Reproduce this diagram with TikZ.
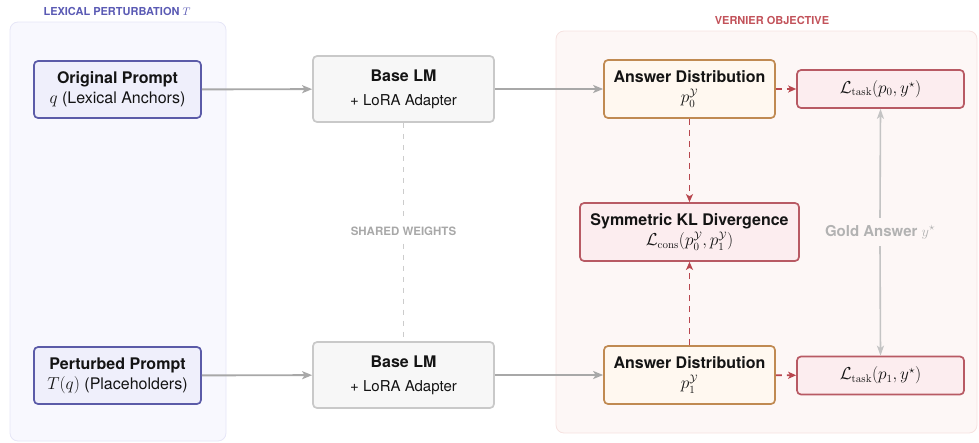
\documentclass[tikz,border=0pt]{standalone}
\usepackage[no-math]{fontspec}
\setmainfont{TeX Gyre Heros}
\usetikzlibrary{arrows.meta}

\definecolor{lexfill}{HTML}{F8F8FE}
\definecolor{lexline}{HTML}{E6E6F7}
\definecolor{lextext}{HTML}{5A5AB4}
\definecolor{promptline}{HTML}{5B5BA8}
\definecolor{promptfill}{HTML}{EFEFFB}
\definecolor{lmline}{HTML}{C9C9C9}
\definecolor{lmfill}{HTML}{F7F7F7}
\definecolor{verfill}{HTML}{FDF7F6}
\definecolor{verline}{HTML}{F6E2E0}
\definecolor{vertext}{HTML}{C2525A}
\definecolor{ansline}{HTML}{C08A52}
\definecolor{ansfill}{HTML}{FFF8F0}
\definecolor{lossline}{HTML}{B85A64}
\definecolor{lossfill}{HTML}{FCEDEF}
\definecolor{flowgray}{HTML}{A8A8A8}
\definecolor{goldgray}{HTML}{C4C4C4}
\definecolor{goldtext}{HTML}{B2B2B2}
\definecolor{sharedgray}{HTML}{CCCCCC}
\definecolor{redflow}{HTML}{B8464E}

\tikzset{
  panel/.style={rounded corners=8pt, line width=0.8pt},
  box/.style={rounded corners=4pt, line width=1.7pt, align=center, inner sep=0pt,
    font=\fontsize{16}{20}\selectfont, text=black!92},
  promptbox/.style={box, draw=promptline, fill=promptfill, minimum width=167pt, minimum height=57pt},
  lmbox/.style={box, draw=lmline, fill=lmfill, minimum width=181pt, minimum height=66pt},
  ansbox/.style={box, draw=ansline, fill=ansfill, minimum width=171pt, minimum height=58pt},
  lossbox/.style={box, draw=lossline, fill=lossfill, minimum width=167pt, minimum height=38pt},
  paneltitle/.style={font=\bfseries\fontsize{11}{13}\selectfont},
  flow/.style={draw=flowgray, line width=1.9pt, -{Stealth[length=10pt,width=8pt,inset=2.5pt]}},
  redflow/.style={draw=redflow, line width=1.7pt, dash pattern=on 6pt off 5pt,
    -{Stealth[length=8pt,width=7pt,inset=2pt]}},
  goldflow/.style={draw=goldgray, line width=1.6pt, -{Stealth[length=10pt,width=7pt,inset=2.5pt]}},
  sharedlink/.style={draw=sharedgray, line width=1.5pt, dash pattern=on 5pt off 6pt},
}

\begin{document}
\begin{tikzpicture}[x=1pt, y=-1pt]
\useasboundingbox (0,0) rectangle (979,442);

% background panels
\draw[panel, fill=lexfill, draw=lexline] (10,22) rectangle (226,441);
\draw[panel, fill=verfill, draw=verline] (556,31) rectangle (977,433);

\node[paneltitle, text=lextext] (lextitle) at (117,11) {LEXICAL PERTURBATION $T$};
\node[paneltitle, text=vertext] (vertitle) at (772,20) {VERNIER OBJECTIVE};

% inputs
\node[promptbox] (orig) at (117.5,89.5) {\textbf{Original Prompt}\\$q$ (Lexical Anchors)};
\node[promptbox] (pert) at (117.5,375.5) {\textbf{Perturbed Prompt}\\$T(q)$ (Placeholders)};

% shared model
\node[lmbox] (lm0) at (403.5,89) {\textbf{Base LM}\\[4pt]{\fontsize{15}{18}\selectfont + LoRA Adapter}};
\node[lmbox] (lm1) at (403.5,375) {\textbf{Base LM}\\[4pt]{\fontsize{15}{18}\selectfont + LoRA Adapter}};

% answer distributions
\node[ansbox] (ans0) at (689.5,89) {\textbf{Answer Distribution}\\$p_0^{\mathcal{Y}}$};
\node[ansbox] (ans1) at (689.5,375) {\textbf{Answer Distribution}\\$p_1^{\mathcal{Y}}$};

% losses
\node[lossbox] (task0) at (880.5,89) {$\mathcal{L}_{\mathrm{task}}(p_0, y^{\star})$};
\node[lossbox] (task1) at (880.5,375.5) {$\mathcal{L}_{\mathrm{task}}(p_1, y^{\star})$};
\node[box, draw=lossline, fill=lossfill, minimum width=219pt, minimum height=58pt] (kl) at (689.5,232)
  {\textbf{Symmetric KL Divergence}\\$\mathcal{L}_{\mathrm{cons}}(p_0^{\mathcal{Y}}, p_1^{\mathcal{Y}})$};

% labels on the vertical links
\node[font=\bfseries\fontsize{11.5}{13}\selectfont, text=flowgray, minimum height=25pt, inner sep=0pt]
  (shared) at (403.5,231) {SHARED WEIGHTS};
\node[font=\bfseries\fontsize{15}{17}\selectfont, text=goldtext, minimum height=28pt, inner sep=0pt]
  (gold) at (880,232) {Gold Answer $y^{\star}$};

% forward passes
\draw[flow] (orig) -- (lm0);
\draw[flow] (pert) -- (lm1);
\draw[flow] (lm0) -- (ans0);
\draw[flow] (lm1) -- (ans1);

% weight sharing
\draw[sharedlink] (lm0.south) -- (shared.north);
\draw[sharedlink] (shared.south) -- (lm1.north);

% objective terms
\draw[redflow] (ans0) -- (task0);
\draw[redflow] (ans1) -- (task1);
\draw[redflow] (ans0.south) -- (kl.north);
\draw[redflow] (ans1.north) -- (kl.south);

% gold answer supervision
\draw[goldflow] (gold.north) -- (task0.south);
\draw[goldflow] (gold.south) -- (task1.north);
\end{tikzpicture}
\end{document}
